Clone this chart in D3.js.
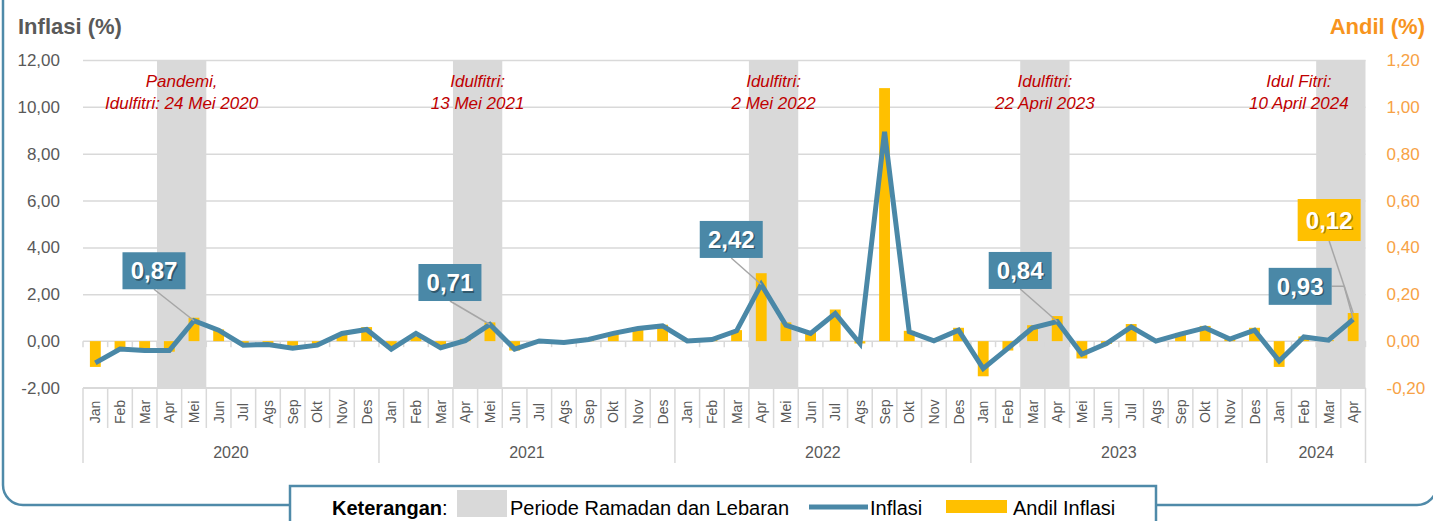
<!DOCTYPE html>
<html>
<head>
<meta charset="utf-8">
<script src="https://d3js.org/d3.v7.min.js"></script>
<style>
  body { margin: 0; background: #fff; }
  text { font-family: "Liberation Sans", Arial, sans-serif; }
</style>
</head>
<body>
<svg id="chart" width="1433" height="521"></svg>
<script>
// months and years on the x axis
var monthNames = ["Jan","Feb","Mar","Apr","Mei","Jun","Jul","Ags","Sep","Okt","Nov","Des"];
var years = [2020, 2021, 2022, 2023, 2024];
var monthsPerYear = [12, 12, 12, 12, 4];

// inflasi month to month (%), left axis
var inflasi = [
  -0.93, -0.34, -0.40, -0.40, 0.87, 0.47, -0.17, -0.14, -0.30, -0.17, 0.33, 0.50,
  -0.34, 0.33, -0.28, 0.02, 0.71, -0.34, 0.01, -0.06, 0.07, 0.33, 0.54, 0.65,
  0.01, 0.07, 0.44, 2.42, 0.68, 0.33, 1.18, -0.10, 8.94, 0.40, 0.01, 0.47,
  -1.17, -0.31, 0.57, 0.84, -0.56, -0.10, 0.61, 0.00, 0.30, 0.57, 0.09, 0.47,
  -0.85, 0.18, 0.04, 0.93
];

// andil inflasi (%), right axis
var andil = [
  -0.11, -0.04, -0.04, -0.045, 0.10, 0.05, -0.015, -0.01, -0.02, -0.015, 0.026, 0.06,
  -0.03, 0.02, -0.02, 0.01, 0.08, -0.04, 0.002, -0.005, 0.005, 0.033, 0.05, 0.07,
  0.002, 0.006, 0.047, 0.29, 0.08, 0.04, 0.135, -0.01, 1.08, 0.044, 0.002, 0.057,
  -0.15, -0.04, 0.068, 0.107, -0.074, -0.012, 0.073, 0.002, 0.035, 0.065, 0.01, 0.057,
  -0.11, 0.02, 0.004, 0.12
];

var leftTicks = [-2, 0, 2, 4, 6, 8, 10, 12];
var rightTicks = [-0.2, 0, 0.2, 0.4, 0.6, 0.8, 1.0, 1.2];

// ramadan / lebaran periods, first and last month index
var ramadan = [[3, 4], [15, 16], [27, 28], [38, 39], [50, 51]];

// idulfitri notes: month index where the note is centred, lines
var notes = [
  {at: 3.5, dx: 0, lines: ["Pandemi,", "Idulfitri: 24 Mei 2020"]},
  {at: 15.5, dx: 0, lines: ["Idulfitri:", "13 Mei 2021"]},
  {at: 27.5, dx: 0, lines: ["Idulfitri:", "2 Mei 2022"]},
  {at: 38.5, dx: 0, lines: ["Idulfitri:", "22 April 2023"]},
  {at: 50.5, dx: -42, lines: ["Idul Fitri:", "10 April 2024"]}
];

// labelled values
var callInflasi = [4, 16, 27, 39, 51];
var callAndil = [51];

var months = [];
years.forEach(function(y, i) {
  for (var m = 0; m < monthsPerYear[i]; m++) months.push(monthNames[m] + " " + y);
});

var fmt = function(v) { return v.toFixed(2).replace(".", ","); };

var blue = "#4a88a7", gold = "#ffc000", shade = "#d9d9d9", grid = "#d9d9d9";
var textGray = "#595959", orange = "#f7941d";

var svg = d3.select("#chart");
var pLeft = 83, pRight = 1365.5, pTop = 60, pBottom = 388;

var x = d3.scaleBand().domain(d3.range(months.length)).range([pLeft, pRight]);
var yL = d3.scaleLinear().domain([-2, 12]).range([pBottom, pTop]);
var yR = d3.scaleLinear().domain([-0.2, 1.2]).range([pBottom, pTop]);
var bw = x.bandwidth();

// frame
svg.append("rect")
  .attr("x", 3).attr("y", -40).attr("width", 1434).attr("height", 545)
  .attr("rx", 20).attr("fill", "none")
  .attr("stroke", "#4f8aa9").attr("stroke-width", 2.5);

// ramadan shading
svg.append("g").selectAll("rect")
  .data(ramadan).enter().append("rect")
  .attr("x", function(d) { return x(d[0]); })
  .attr("width", function(d) { return x(d[1]) + bw - x(d[0]); })
  .attr("y", pTop).attr("height", pBottom - pTop)
  .attr("fill", shade);

// gridlines
var gridG = svg.append("g")
  .attr("transform", "translate(" + pLeft + ",0)")
  .call(d3.axisLeft(yL).tickValues(leftTicks.filter(function(t) { return t > 0; }))
    .tickSize(-(pRight - pLeft)).tickFormat(""));
gridG.select(".domain").remove();
gridG.selectAll("line").attr("stroke", grid).attr("stroke-width", 1.5);

// left axis labels
var yAxisL = svg.append("g")
  .attr("transform", "translate(" + (pLeft - 20) + ",0)")
  .call(d3.axisLeft(yL).tickValues(leftTicks).tickSize(0).tickFormat(fmt));
yAxisL.select(".domain").remove();
yAxisL.selectAll("text").attr("fill", textGray).attr("font-size", 17)
  .attr("font-family", "Liberation Sans, Arial, sans-serif");

// right axis labels
var yAxisR = svg.append("g")
  .attr("transform", "translate(" + (pRight + 18) + ",0)")
  .call(d3.axisRight(yR).tickValues(rightTicks).tickSize(0).tickFormat(fmt));
yAxisR.select(".domain").remove();
yAxisR.selectAll("text").attr("fill", "#f7a245").attr("font-size", 17)
  .attr("font-family", "Liberation Sans, Arial, sans-serif");

// zero line with small ticks
svg.append("line")
  .attr("x1", pLeft).attr("x2", pRight).attr("y1", yL(0)).attr("y2", yL(0))
  .attr("stroke", grid).attr("stroke-width", 1.5);
svg.append("g").selectAll("line")
  .data(d3.range(months.length + 1)).enter().append("line")
  .attr("x1", function(i) { return pLeft + i * bw; })
  .attr("x2", function(i) { return pLeft + i * bw; })
  .attr("y1", yL(0)).attr("y2", yL(0) + 6)
  .attr("stroke", grid).attr("stroke-width", 1.5);

// bars (andil)
svg.append("g").selectAll("rect")
  .data(andil).enter().append("rect")
  .attr("x", function(d, i) { return x(i) + bw * 0.28; })
  .attr("width", bw * 0.44)
  .attr("y", function(d) { return Math.min(yR(d), yR(0)); })
  .attr("height", function(d) { return Math.abs(yR(d) - yR(0)); })
  .attr("fill", gold);

// line (inflasi)
var line = d3.line()
  .x(function(d, i) { return x(i) + bw / 2; })
  .y(function(d) { return yL(d); });
svg.append("path")
  .datum(inflasi)
  .attr("d", line)
  .attr("fill", "none").attr("stroke", blue)
  .attr("stroke-width", 5).attr("stroke-linejoin", "miter");

// x axis line and category dividers
svg.append("line")
  .attr("x1", pLeft).attr("x2", pRight).attr("y1", pBottom).attr("y2", pBottom)
  .attr("stroke", grid).attr("stroke-width", 2);

var yearStarts = [0];
monthsPerYear.forEach(function(n, i) { yearStarts.push(yearStarts[i] + n); });

svg.append("g").selectAll("line")
  .data(d3.range(months.length + 1)).enter().append("line")
  .attr("x1", function(i) { return pLeft + i * bw; })
  .attr("x2", function(i) { return pLeft + i * bw; })
  .attr("y1", pBottom)
  .attr("y2", function(i) { return yearStarts.indexOf(i) >= 0 ? 463 : 428; })
  .attr("stroke", grid).attr("stroke-width", 1.5);

// month labels
svg.append("g").selectAll("text")
  .data(months).enter().append("text")
  .attr("transform", function(d, i) {
    return "translate(" + (x(i) + bw / 2 + 5) + ",412) rotate(-90)";
  })
  .attr("text-anchor", "middle")
  .attr("font-size", 14).attr("fill", textGray)
  .text(function(d) { return d.split(" ")[0]; });

// year labels
svg.append("g").selectAll("text")
  .data(years).enter().append("text")
  .attr("x", function(d, i) { return pLeft + (yearStarts[i] + monthsPerYear[i] / 2) * bw; })
  .attr("y", 458)
  .attr("text-anchor", "middle")
  .attr("font-size", 16).attr("fill", textGray)
  .text(function(d) { return d; });

// idulfitri notes
notes.forEach(function(n) {
  var t = svg.append("text")
    .attr("text-anchor", "middle")
    .attr("font-family", "Open Sans, sans-serif")
    .attr("font-style", "italic")
    .attr("font-size", 17)
    .attr("fill", "#c00000");
  n.lines.forEach(function(l, j) {
    t.append("tspan")
      .attr("x", pLeft + n.at * bw + bw / 2 + n.dx)
      .attr("y", 87 + j * 21.5)
      .text(l);
  });
});

// callouts
var boxW = 63, boxH = 37;
var callSpec = {
  4: {dx: -40, dy: -50},
  16: {dx: -40, dy: -42},
  27: {dx: -30, dy: -45},
  39: {dx: -37, dy: -51},
  51: {dx: -53, dy: -33}
};

function boxLabel(cx, cy, h, txt, fill) {
  svg.append("rect")
    .attr("x", cx - boxW / 2).attr("y", cy - h / 2)
    .attr("width", boxW).attr("height", h)
    .attr("fill", fill);
  svg.append("text")
    .attr("x", cx + 1.5).attr("y", cy + 10)
    .attr("text-anchor", "middle").attr("font-weight", "bold")
    .attr("font-size", 24).attr("fill", "rgba(0,0,0,0.35)")
    .text(txt);
  svg.append("text")
    .attr("x", cx).attr("y", cy + 8.5)
    .attr("text-anchor", "middle").attr("font-weight", "bold")
    .attr("font-size", 24).attr("fill", "#fff")
    .text(txt);
}

var leaders = svg.append("g");
callInflasi.forEach(function(i) {
  var px = x(i) + bw / 2, py = yL(inflasi[i]);
  var s = callSpec[i];
  var cx = px + s.dx, cy = py + s.dy;
  var pts;
  if (i === 51) {
    pts = [[cx + boxW / 2, cy], [px - 9, cy], [px, py]];
  } else {
    pts = [[cx, cy + boxH / 2], [px, py]];
  }
  leaders.append("path").attr("d", d3.line()(pts))
    .attr("fill", "none").attr("stroke", "#a6a6a6").attr("stroke-width", 1.5);
  boxLabel(cx, cy, boxH, fmt(inflasi[i]), blue);
});

callAndil.forEach(function(i) {
  var px = x(i) + bw / 2, py = yR(andil[i]);
  var cx = px - 24, cy = py - 93;
  leaders.append("path").attr("d", d3.line()([[cx, cy + 21], [px, py]]))
    .attr("fill", "none").attr("stroke", "#a6a6a6").attr("stroke-width", 1.5);
  boxLabel(cx, cy, 42, fmt(andil[i]), gold);
});

// titles
svg.append("text")
  .attr("x", 18).attr("y", 34)
  .attr("font-weight", "bold").attr("font-size", 22)
  .attr("fill", textGray).text("Inflasi (%)");
svg.append("text")
  .attr("x", 1425).attr("y", 34)
  .attr("text-anchor", "end")
  .attr("font-weight", "bold").attr("font-size", 22)
  .attr("fill", orange).text("Andil (%)");

// legend
var lg = svg.append("g");
lg.append("rect")
  .attr("x", 290).attr("y", 486).attr("width", 866).attr("height", 45)
  .attr("fill", "#fff").attr("stroke", "#4f8aa9").attr("stroke-width", 2.5);
var kt = lg.append("text").attr("x", 332).attr("y", 515).attr("font-size", 20).attr("fill", "#000");
kt.append("tspan").attr("font-weight", "bold").text("Keterangan");
kt.append("tspan").text(":");
lg.append("rect").attr("x", 457).attr("y", 490).attr("width", 50).attr("height", 27).attr("fill", shade);
lg.append("text").attr("x", 510).attr("y", 515).attr("font-size", 20).attr("fill", "#000")
  .text("Periode Ramadan dan Lebaran");
lg.append("line").attr("x1", 809).attr("x2", 868).attr("y1", 507).attr("y2", 507)
  .attr("stroke", blue).attr("stroke-width", 5);
lg.append("text").attr("x", 870).attr("y", 515).attr("font-size", 20).attr("fill", "#000")
  .text("Inflasi");
lg.append("rect").attr("x", 946).attr("y", 500).attr("width", 61).attr("height", 13).attr("fill", gold);
lg.append("text").attr("x", 1013).attr("y", 515).attr("font-size", 20).attr("fill", "#000")
  .text("Andil Inflasi");
</script>
</body>
</html>
